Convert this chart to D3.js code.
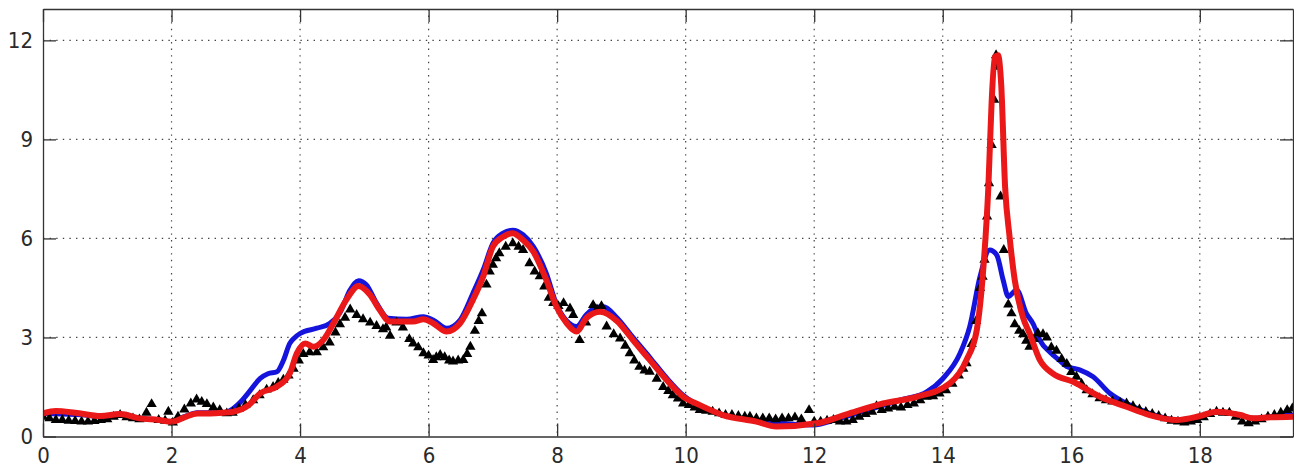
<!DOCTYPE html>
<html>
<head>
<meta charset="utf-8">
<script src="https://cdn.jsdelivr.net/npm/d3@7"></script>
<style>
  html, body { margin: 0; padding: 0; background: #fff; }
  svg { display: block; }
  .tick text { font-family: "Liberation Sans Narrow", "DejaVu Sans Condensed", "Liberation Sans", sans-serif; font-size: 22px; fill: #2a2a2a; }
</style>
</head>
<body>
<svg id="chart" width="1294" height="468"></svg>
<script>
// Tick values on both axes
const xTicks = [0, 2, 4, 6, 8, 10, 12, 14, 16, 18];
const yTicks = [0, 3, 6, 9, 12];

// Model A (blue curve): [x, value]
const modelA = [
  [0.0,0.7],[0.3,0.68],[0.6,0.66],[0.9,0.6],[1.2,0.68],[1.5,0.55],[1.8,0.5],[2.0,0.45],
  [2.2,0.6],[2.4,0.72],[2.6,0.72],[2.8,0.72],[2.96,0.85],[3.1,1.1],[3.22,1.38],[3.38,1.76],
  [3.5,1.9],[3.64,1.96],[3.74,2.3],[3.84,2.82],[3.92,3.0],[4.0,3.12],[4.26,3.28],[4.46,3.42],
  [4.62,3.75],[4.78,4.44],[4.91,4.72],[5.03,4.6],[5.19,4.04],[5.37,3.58],[5.66,3.55],[5.92,3.63],
  [6.07,3.53],[6.28,3.28],[6.49,3.53],[6.69,4.34],[6.85,5.05],[7.0,5.85],[7.16,6.16],[7.31,6.25],
  [7.47,6.11],[7.63,5.75],[7.83,4.95],[7.99,4.0],[8.15,3.5],[8.3,3.33],[8.46,3.7],[8.6,3.9],
  [8.72,3.93],[8.93,3.6],[9.18,3.0],[9.44,2.4],[9.7,1.78],[9.96,1.25],[10.22,0.92],[10.58,0.65],
  [11.1,0.5],[11.47,0.4],[11.98,0.35],[12.4,0.55],[12.92,0.85],[13.33,1.1],[13.75,1.35],[14.0,1.75],
  [14.27,2.52],[14.42,3.33],[14.58,4.84],[14.73,5.65],[14.84,5.5],[14.94,4.74],[15.02,4.24],[15.15,4.44],
  [15.3,3.73],[15.41,3.4],[15.51,2.92],[15.67,2.55],[15.82,2.3],[15.93,2.12],[16.13,2.02],[16.34,1.81],
  [16.6,1.31],[16.86,1.0],[17.22,0.7],[17.64,0.5],[18.0,0.6],[18.26,0.75],[18.63,0.65],[18.83,0.55],
  [19.1,0.6],[19.45,0.65]
];

// Model B (red curve): [x, value]
const modelB = [
  [0.0,0.7],[0.2,0.77],[0.5,0.72],[0.9,0.62],[1.2,0.68],[1.5,0.55],[1.8,0.5],[2.0,0.45],
  [2.2,0.58],[2.4,0.7],[2.6,0.7],[2.8,0.72],[2.96,0.75],[3.2,0.95],[3.38,1.31],[3.64,1.51],
  [3.84,1.91],[3.95,2.52],[4.08,2.82],[4.21,2.72],[4.36,2.92],[4.52,3.43],[4.72,4.14],[4.91,4.56],
  [5.09,4.29],[5.24,3.83],[5.4,3.48],[5.76,3.48],[5.92,3.55],[6.07,3.43],[6.28,3.18],[6.49,3.43],
  [6.69,4.14],[6.85,4.85],[7.0,5.75],[7.16,6.05],[7.31,6.16],[7.47,5.95],[7.63,5.6],[7.83,4.75],
  [7.99,3.93],[8.15,3.43],[8.3,3.18],[8.46,3.6],[8.67,3.78],[8.93,3.5],[9.18,2.92],[9.44,2.32],
  [9.7,1.72],[9.96,1.21],[10.22,0.95],[10.58,0.65],[11.1,0.45],[11.41,0.3],[12.04,0.4],[12.55,0.7],
  [13.07,1.0],[13.59,1.2],[14.11,1.61],[14.37,2.32],[14.53,3.23],[14.63,5.05],[14.71,7.57],[14.76,10.1],
  [14.81,11.5],[14.86,11.55],[14.91,10.65],[14.97,7.57],[15.04,6.05],[15.12,4.74],[15.25,3.6],[15.35,3.13],
  [15.51,2.32],[15.71,1.91],[16.03,1.66],[16.44,1.21],[16.86,0.9],[17.22,0.65],[17.64,0.5],[18.0,0.62],
  [18.26,0.75],[18.63,0.65],[18.83,0.55],[19.1,0.58],[19.45,0.6]
];

// Measured points (black triangles): [x, value]
const measured = [
  [0.0,0.6],[0.1,0.55],[0.2,0.5],[0.3,0.5],[0.4,0.48],[0.5,0.47],[0.6,0.45],[0.7,0.45],
  [0.8,0.47],[0.9,0.5],[1.0,0.52],[1.1,0.6],[1.2,0.65],[1.3,0.58],[1.4,0.55],[1.5,0.52],
  [1.61,0.72],[1.69,0.98],[1.8,0.5],[1.9,0.48],[1.95,0.75],[2.02,0.42],[2.1,0.6],[2.2,0.82],
  [2.3,1.0],[2.39,1.12],[2.47,1.05],[2.55,0.98],[2.65,0.88],[2.75,0.8],[2.86,0.7],[2.95,0.72],
  [3.05,0.85],[3.15,0.95],[3.27,1.1],[3.37,1.25],[3.48,1.42],[3.58,1.5],[3.66,1.62],[3.74,1.72],
  [3.82,1.85],[3.9,2.05],[3.98,2.3],[4.05,2.5],[4.15,2.55],[4.26,2.55],[4.36,2.7],[4.46,2.85],
  [4.55,3.15],[4.62,3.4],[4.7,3.6],[4.78,3.85],[4.88,3.68],[4.98,3.55],[5.09,3.45],[5.19,3.35],
  [5.29,3.25],[5.34,3.3],[5.4,3.05],[5.5,3.45],[5.6,3.3],[5.7,2.95],[5.76,2.82],[5.84,2.7],
  [5.92,2.52],[6.0,2.45],[6.07,2.32],[6.12,2.4],[6.18,2.47],[6.25,2.4],[6.32,2.3],[6.38,2.27],
  [6.46,2.3],[6.54,2.32],[6.6,2.5],[6.65,2.72],[6.72,3.2],[6.78,3.5],[6.83,3.73],[6.9,4.6],
  [6.95,5.0],[7.0,5.2],[7.05,5.4],[7.1,5.55],[7.2,5.75],[7.31,5.85],[7.4,5.75],[7.47,5.65],
  [7.57,5.25],[7.65,5.0],[7.73,4.85],[7.8,4.54],[7.87,4.2],[7.94,4.04],[8.02,3.95],[8.1,4.04],
  [8.2,3.88],[8.25,3.68],[8.35,2.92],[8.45,3.45],[8.56,3.98],[8.62,3.85],[8.69,3.95],[8.77,3.33],
  [8.88,3.1],[8.98,2.97],[9.06,2.75],[9.13,2.52],[9.2,2.3],[9.28,2.11],[9.36,2.0],[9.44,1.96],
  [9.55,1.75],[9.65,1.5],[9.73,1.38],[9.8,1.25],[9.88,1.15],[9.96,1.0],[10.05,0.95],[10.14,0.88],
  [10.22,0.8],[10.32,0.78],[10.42,0.75],[10.52,0.7],[10.62,0.65],[10.72,0.65],[10.82,0.62],[10.92,0.6],
  [11.0,0.6],[11.1,0.55],[11.2,0.55],[11.3,0.55],[11.4,0.52],[11.5,0.55],[11.6,0.55],[11.7,0.58],
  [11.8,0.52],[11.92,0.8],[12.0,0.45],[12.1,0.45],[12.2,0.48],[12.3,0.5],[12.4,0.45],[12.5,0.45],
  [12.6,0.5],[12.7,0.6],[12.8,0.68],[12.9,0.75],[12.97,0.92],[13.05,0.8],[13.15,0.85],[13.25,0.9],
  [13.35,0.88],[13.45,0.95],[13.55,1.0],[13.65,1.1],[13.75,1.2],[13.85,1.22],[13.95,1.3],[14.05,1.4],
  [14.15,1.6],[14.25,1.85],[14.32,2.05],[14.37,2.22],[14.45,2.8],[14.52,3.5],[14.58,4.5],[14.62,4.84],
  [14.65,5.35],[14.69,6.66],[14.72,7.67],[14.76,8.83],[14.8,10.2],[14.83,11.55],[14.85,11.2],[14.9,7.27],
  [14.95,5.65],[15.02,4.0],[15.07,3.73],[15.12,3.4],[15.19,3.2],[15.25,3.1],[15.3,2.9],[15.35,2.72],
  [15.42,2.95],[15.48,3.13],[15.56,3.1],[15.62,3.0],[15.69,2.7],[15.77,2.6],[15.85,2.35],[15.93,2.2],
  [16.0,1.95],[16.08,1.81],[16.16,1.6],[16.24,1.4],[16.33,1.28],[16.44,1.16],[16.54,1.1],[16.64,1.06],
  [16.76,1.02],[16.86,1.0],[16.96,0.92],[17.06,0.82],[17.16,0.74],[17.26,0.68],[17.36,0.62],[17.46,0.55],
  [17.56,0.48],[17.66,0.45],[17.76,0.42],[17.86,0.45],[17.96,0.5],[18.06,0.58],[18.16,0.68],[18.26,0.75],
  [18.36,0.72],[18.46,0.72],[18.56,0.6],[18.66,0.45],[18.76,0.4],[18.86,0.45],[18.96,0.52],[19.06,0.6],
  [19.16,0.65],[19.26,0.72],[19.36,0.8],[19.44,0.85]
];

const svg = d3.select("#chart");
const box = { left: 43, right: 1293, top: 9, bottom: 436.5 };

const x = d3.scaleLinear().domain([0, 19.45]).range([box.left, box.right]);
const y = d3.scaleLinear().domain([0, 12.95]).range([box.bottom, box.top]);

svg.append("defs").append("clipPath").attr("id", "plotClip")
  .append("rect")
  .attr("x", box.left).attr("y", box.top)
  .attr("width", box.right - box.left).attr("height", box.bottom - box.top);

// Dotted grid
const grid = svg.append("g").attr("stroke", "#444").attr("stroke-width", 1.2)
  .attr("stroke-dasharray", "1.4,5.2");
grid.selectAll(".gx").data(xTicks.filter(d => d > 0)).join("line")
  .attr("x1", d => x(d)).attr("x2", d => x(d))
  .attr("y1", box.top).attr("y2", box.bottom);
grid.selectAll(".gy").data(yTicks.filter(d => d > 0)).join("line")
  .attr("x1", box.left).attr("x2", box.right)
  .attr("y1", d => y(d)).attr("y2", d => y(d));

const plot = svg.append("g").attr("clip-path", "url(#plotClip)");

const line = d3.line()
  .x(d => x(d[0])).y(d => y(d[1]))
  .curve(d3.curveMonotoneX);

plot.append("path").datum(modelA)
  .attr("fill", "none").attr("stroke", "#1414dc").attr("stroke-width", 5)
  .attr("stroke-linejoin", "round").attr("stroke-linecap", "round")
  .attr("d", line);

plot.append("g").selectAll("path").data(measured).join("path")
  .attr("transform", d => `translate(${x(d[0])},${y(d[1])})`)
  .attr("d", d3.symbol(d3.symbolTriangle, 46))
  .attr("fill", "#000");

plot.append("path").datum(modelB)
  .attr("fill", "none").attr("stroke", "#ea1818").attr("stroke-width", 6)
  .attr("stroke-linejoin", "round").attr("stroke-linecap", "round")
  .attr("d", line);

// Axes: ticks point inward on all four sides
const axisColor = "#333";
function styleAxis(g) {
  g.select(".domain").attr("stroke", axisColor).attr("stroke-width", 1.3);
  g.selectAll(".tick line").attr("stroke", axisColor).attr("stroke-width", 1.3);
}

svg.append("g").attr("transform", `translate(0,${box.bottom})`)
  .call(d3.axisBottom(x).tickValues(xTicks).tickSize(-13).tickSizeOuter(0).tickPadding(11))
  .call(styleAxis);

svg.append("g").attr("transform", `translate(${box.left},0)`)
  .call(d3.axisLeft(y).tickValues(yTicks).tickSize(-13).tickSizeOuter(0).tickPadding(10))
  .call(styleAxis);

svg.append("g").attr("transform", `translate(0,${box.top})`)
  .call(d3.axisTop(x).tickValues(xTicks).tickSize(-13).tickSizeOuter(0).tickFormat(""))
  .call(styleAxis);

svg.append("g").attr("transform", `translate(${box.right},0)`)
  .call(d3.axisRight(y).tickValues(yTicks).tickSize(-13).tickSizeOuter(0).tickFormat(""))
  .call(styleAxis);

svg.selectAll(".tick text").attr("fill", "#2a2a2a");
</script>
</body>
</html>
